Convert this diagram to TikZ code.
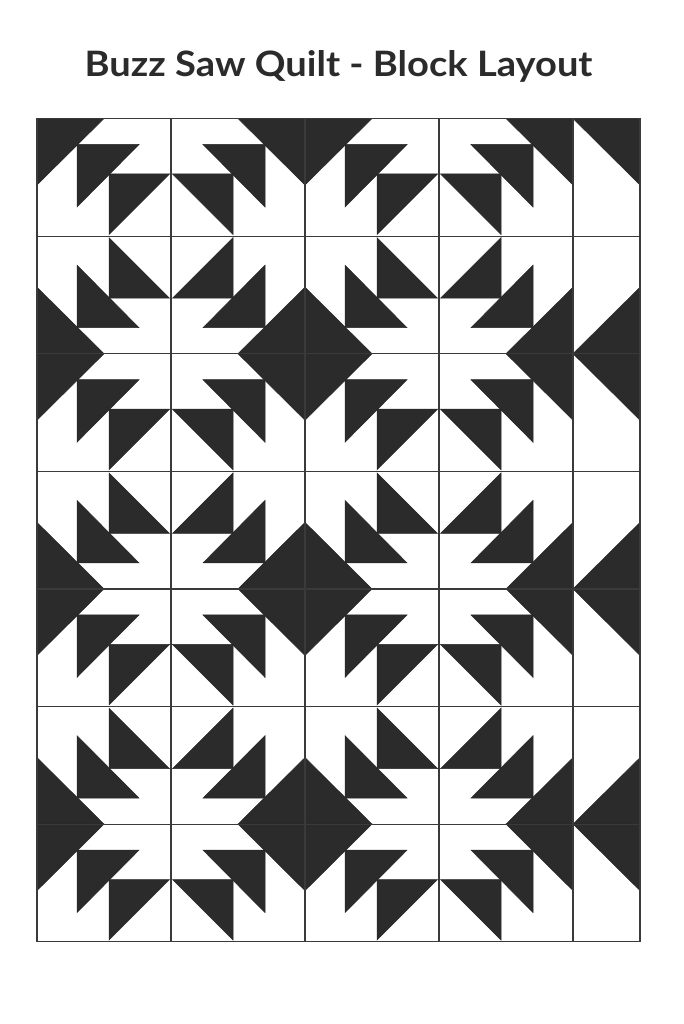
\documentclass[tikz,border=0pt]{standalone}
\usepackage{fontspec}
\setmainfont{Lato}
\definecolor{quiltdark}{HTML}{2B2B2B}
\definecolor{gridline}{HTML}{3A3A3A}
\newcommand\qcell[4]{%
  \begin{scope}[shift={(#1,#2)},xscale=#3,yscale=#4]
    \fill[piece] (0,0) -- (67,0) -- (0,66.5) -- cycle;
    \fill[piece] (40,26) -- (102,26) -- (40,88.5) -- cycle;
    \fill[piece] (72,55.5) -- (132.5,55.5) -- (72,116) -- cycle;
  \end{scope}}
\newcommand\qhalf[3]{%
  \begin{scope}[shift={(#1,#2)},xscale=-1,yscale=#3]
    \fill[piece] (0,0) -- (67,0) -- (0,66.5) -- cycle;
  \end{scope}}
\begin{document}
\begin{tikzpicture}[x=1pt,y=-1pt,
  piece/.style={fill=quiltdark,draw=black!85,line width=0.5pt,line join=miter},
  gridl/.style={draw=gridline,line width=1.2pt}]
\useasboundingbox[fill=white] (0,0) rectangle (683,1024);
\node[font=\bfseries\fontsize{35}{40}\selectfont, text=quiltdark, anchor=base] (title) at (338.5,77) {\scalebox{1.088}[1]{Buzz Saw Quilt - Block Layout}};
\foreach \X/\sx in {37/1, 305/-1, 305/1, 573/-1}{
  \foreach \Y/\sy in {118.5/1, 353.7/-1, 353.7/1, 588.9/-1, 588.9/1, 824.1/-1, 824.1/1}{
    \qcell{\X}{\Y}{\sx}{\sy}
  }
}
\foreach \Y/\sy in {118.5/1, 353.7/-1, 353.7/1, 588.9/-1, 588.9/1, 824.1/-1, 824.1/1}{
  \qhalf{640}{\Y}{\sy}
}
\foreach \x in {171,305,439,573}{
  \draw[gridl] (\x,118.5) -- (\x,941.7);
}
\foreach \j in {1,...,6}{
  \draw[gridl] (37,118.5+117.6*\j) -- (640,118.5+117.6*\j);
}
\draw[gridl] (37,118.5) rectangle (640,941.7);
\end{tikzpicture}
\end{document}
